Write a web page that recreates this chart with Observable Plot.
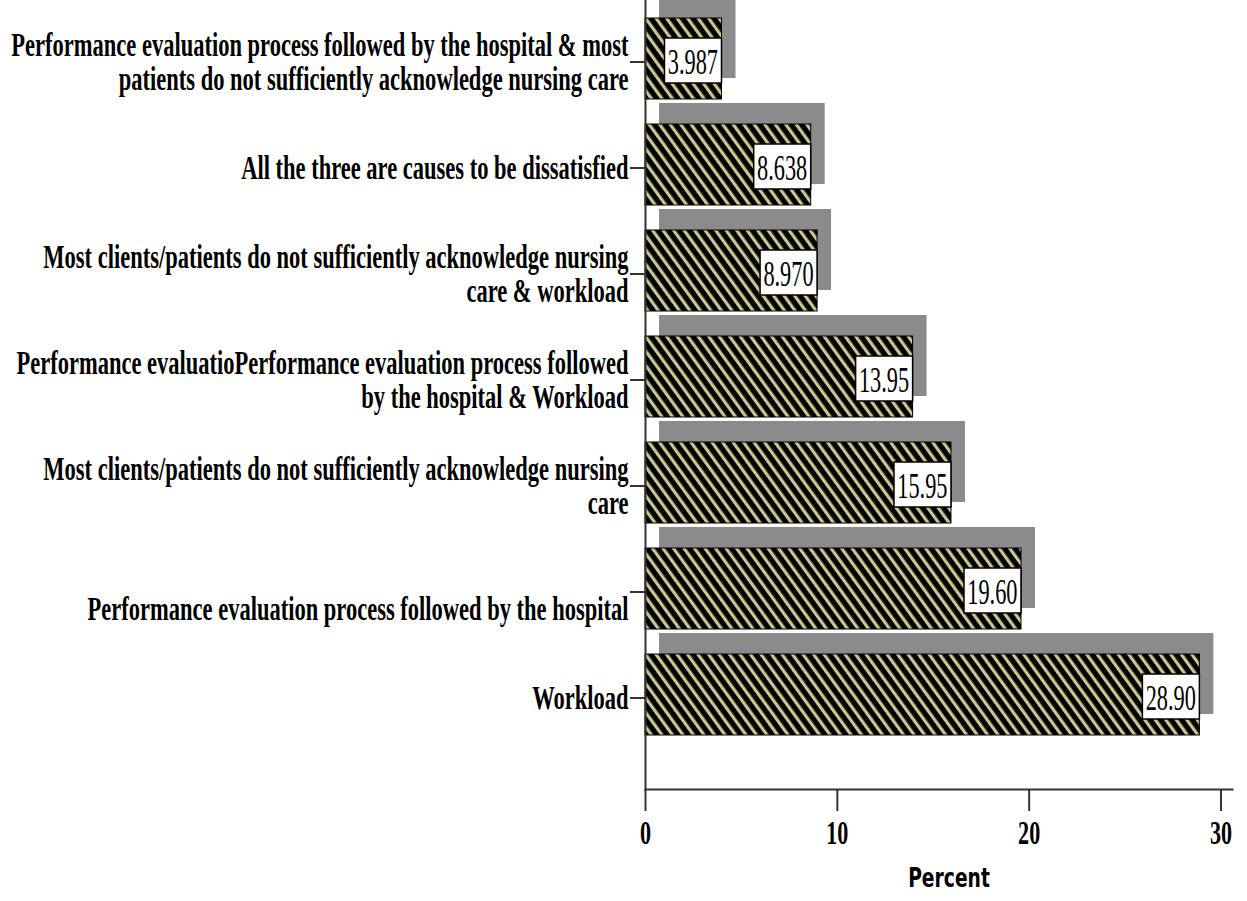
<!DOCTYPE html>
<html>
<head>
<meta charset="utf-8">
<script src="https://cdn.jsdelivr.net/npm/d3@7"></script>
<script src="https://cdn.jsdelivr.net/npm/@observablehq/plot@0.6"></script>
<style>
  html, body { margin: 0; padding: 0; background: #fff; }
  #chart svg { display: block; }
</style>
</head>
<body>
<div id="chart"></div>
<script>
// Categories, top to bottom (as drawn)
const categories = [
  "Performance evaluation process followed by the hospital & most\npatients do not sufficiently acknowledge nursing care",
  "All the three are causes to be dissatisfied",
  "Most clients/patients do not sufficiently acknowledge nursing\ncare & workload",
  "Performance evaluatioPerformance evaluation process followed\nby the hospital & Workload",
  "Most clients/patients do not sufficiently acknowledge nursing\ncare",
  "\nPerformance evaluation process followed by the hospital",
  "Workload"
];
const percents = [3.987, 8.638, 8.970, 13.95, 15.95, 19.60, 28.90];
const xTicks = [0, 10, 20, 30];
const xLabel = "Percent";

const data = categories.map((c, i) => ({category: c, value: percents[i]}));
const fmt = d3.format(".4g");

const plot = Plot.plot({
  width: 1247,
  height: 901,
  marginLeft: 645,
  marginRight: 15,
  marginTop: 0,
  marginBottom: 112,
  style: {background: "#fff", overflow: "visible"},
  x: {domain: [0, 30.6], ticks: xTicks, label: null},
  y: {domain: categories, paddingInner: 0.238, paddingOuter: 0, insetTop: 17, insetBottom: 53, label: null},
  marks: [
    // shadow bars
    Plot.barX(data, {y: "category", x: "value", dx: 14, dy: -21, fill: "#8b8b8b"}),
    // main hatched bars
    Plot.barX(data, {y: "category", x: "value", fill: "url(#hatch)", stroke: "#000", strokeWidth: 1}),
    // white label boxes
    Plot.barX(data, {y: "category", x1: "value", x2: "value", insetLeft: -57, insetTop: 20, insetBottom: 16, fill: "#fff", stroke: "#000", strokeWidth: 1.5}),
    Plot.text(data, {y: "category", x: "value", text: d => fmt(d.value), textAnchor: "end", dx: -4, dy: 3,
      fontSize: 36, fontFamily: "Liberation Serif", fill: "#000"}),
    Plot.axisY({tickSize: 15, tickPadding: 2, fontSize: 34, fontFamily: "Liberation Serif", fontWeight: "bold",
      lineHeight: 1.0, stroke: "#333", strokeWidth: 2, dy: 3, label: null, color: "#000"}),
    Plot.axisX({ticks: xTicks, tickSize: 22, tickPadding: 9, fontSize: 33, fontFamily: "Liberation Serif", fontWeight: "bold",
      stroke: "#333", strokeWidth: 2, label: null, color: "#000"}),
    Plot.frame({anchor: "left", stroke: "#333", strokeWidth: 2}),
    Plot.frame({anchor: "bottom", stroke: "#333", strokeWidth: 2}),
    Plot.text([xLabel], {frameAnchor: "bottom", dx: 10, dy: 97, fontSize: 26, fontFamily: "DejaVu Sans", fontWeight: "bold",
      fill: "#000"})
  ]
});

// hatch pattern
const svg = d3.select(plot);
const defs = svg.insert("defs", ":first-child");
const pat = defs.append("pattern")
  .attr("id", "hatch")
  .attr("patternUnits", "userSpaceOnUse")
  .attr("width", 8.5).attr("height", 8.5)
  .attr("patternTransform", "rotate(-36)");
pat.append("rect").attr("width", 8.5).attr("height", 8.5).attr("fill", "#000");
pat.append("rect").attr("x", 0).attr("width", 3.2).attr("height", 8.5).attr("fill", "#cdc68f");

// horizontally condense text to match the squeezed look
function squeezeTexts(nodes, sx) {
  nodes.forEach(t => {
    const tr = t.getAttribute("transform") || "";
    t.setAttribute("transform", tr + ` scale(${sx},1)`);
  });
}
squeezeTexts(plot.querySelectorAll(`g[aria-label="y-axis tick label"] text`), 0.662);
squeezeTexts(plot.querySelectorAll(`g[aria-label="x-axis tick label"] text`), 0.67);
const textGroups = plot.querySelectorAll(`g[aria-label="text"]`);
if (textGroups[0]) squeezeTexts(textGroups[0].querySelectorAll("text"), 0.62);
if (textGroups[1]) squeezeTexts(textGroups[1].querySelectorAll("text"), 0.72);

document.getElementById("chart").appendChild(plot);
</script>
</body>
</html>
